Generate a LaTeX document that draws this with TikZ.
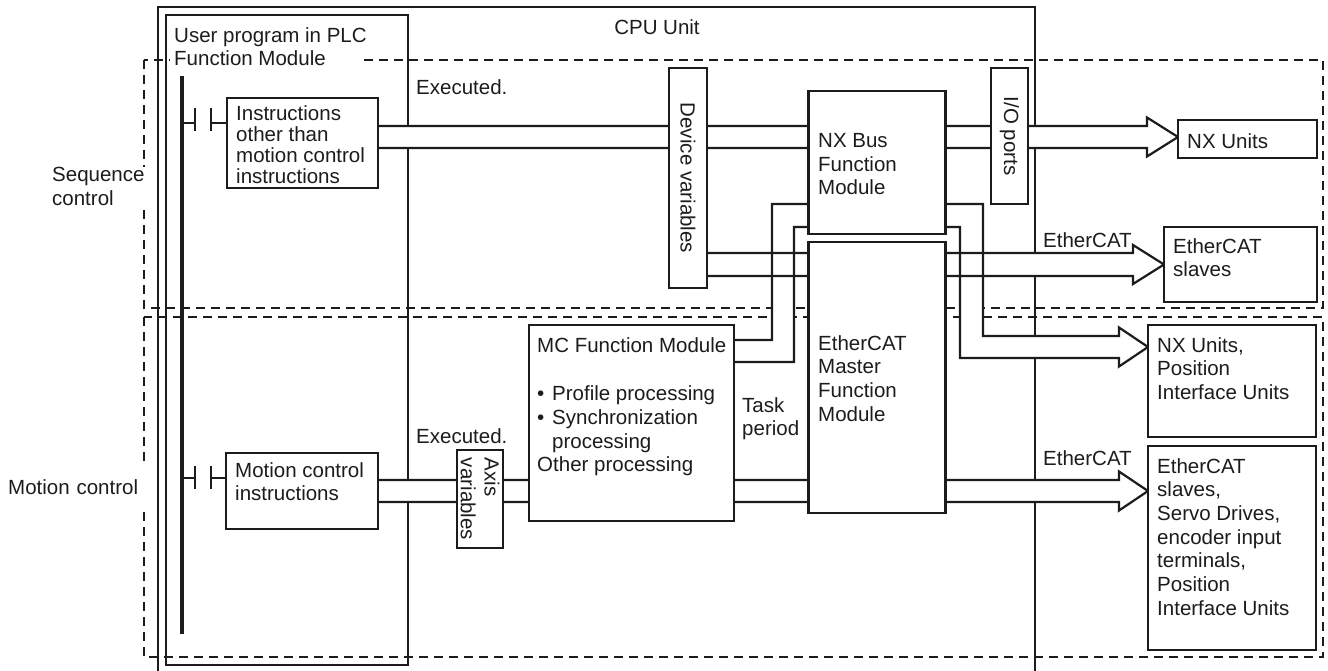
\documentclass[tikz,border=0pt]{standalone}
\usepackage{fontspec}
\setmainfont{Liberation Sans}
\definecolor{ink}{RGB}{30,27,28}
\newcommand\myfs{\fontsize{20.5}{23.7}\selectfont}
\pgfdeclarelayer{lA}\pgfdeclarelayer{lB}\pgfdeclarelayer{lC}
\pgfsetlayers{lA,lB,lC,main}
\begin{document}
\begin{tikzpicture}[x=1pt,y=-1pt,font=\myfs,text=ink,
  box/.style={draw=ink,fill=white,line width=2.8pt,inner sep=0pt,outer sep=0pt},
  lbl/.style={anchor=north west,inner sep=0pt,align=left},
  pipe/.style={draw=ink,line width=2.2pt,line join=miter},
  dsh/.style={draw=ink,line width=1.8pt,dash pattern=on 9pt off 6pt},
  frame/.style={draw=ink,line width=2.2pt},
  ln/.style={draw=ink,line width=2.8pt}]
\useasboundingbox (0,0) rectangle (1328,671);

% ---------- boxes ----------
\node[box,minimum width=151pt,minimum height=90pt] (instr) at (302.5,143) {};
\node[box,minimum width=152pt,minimum height=76pt] (minstr) at (302,491) {};
\node[box,rotate=-90,minimum width=220pt,minimum height=38pt] (dev) at (688,178) {Device variables};
\node[box,rotate=-90,minimum width=98pt,minimum height=46pt,align=left] (axis) at (480,499) {Axis\\variables};
\node[box,minimum width=137pt,minimum height=143pt] (nxb) at (877,162.5) {};
\node[box,rotate=-90,minimum width=136pt,minimum height=37pt] (io) at (1009.5,136) {I/O ports};
\node[box,minimum width=205pt,minimum height=196pt] (mc) at (631.5,423) {};
\node[box,minimum width=137pt,minimum height=271pt] (ecm) at (877,377.5) {};
\node[box,minimum width=139pt,minimum height=38pt] (nxu) at (1247.5,139) {};
\node[box,minimum width=153pt,minimum height=75pt] (ecs1) at (1240.5,264.5) {};
\node[box,minimum width=168pt,minimum height=112pt] (nxp) at (1232,381) {};
\node[box,minimum width=168pt,minimum height=204pt] (ecs2) at (1232,548) {};

% ---------- texts ----------
\node[anchor=north,inner sep=0pt] (tcpu) at (657,19) {CPU Unit};
\node[lbl] (tuser) at (174,27) {User program in PLC\\Function Module};
\node[lbl,font=\fontsize{20.5}{21}\selectfont] (tinstr) at (236,105) {Instructions\\other than\\motion control\\instructions};
\node[lbl] (tex1) at (416,79) {Executed.};
\node[lbl] (tnxb) at (818,133) {NX Bus\\Function\\Module};
\node[lbl] (tnxu) at (1187,133) {NX Units};
\node[lbl] (te1) at (1043,232) {EtherCAT};
\node[lbl] (tecs1) at (1173,238) {EtherCAT\\slaves};
\node[lbl] (tmc) at (537,337) {MC Function Module\\[25pt]\makebox[15pt][l]{•}Profile processing\\\makebox[15pt][l]{•}Synchronization\\\hspace*{15pt}processing\\Other processing};
\node[lbl] (ttask) at (742,397) {Task\\period};
\node[lbl] (tecm) at (818,335) {EtherCAT\\Master\\Function\\Module};
\node[lbl] (tnxp) at (1157,337) {NX Units,\\Position\\Interface Units};
\node[lbl] (te2) at (1043,450) {EtherCAT};
\node[lbl] (tecs2) at (1157,458) {EtherCAT\\slaves,\\Servo Drives,\\encoder input\\terminals,\\Position\\Interface Units};
\node[lbl] (tminstr) at (235,462) {Motion control\\instructions};
\node[lbl] (tex2) at (416,428) {Executed.};
\node[lbl,fill=white] (tseq) at (52,167) {Sequence\\control};
\node[anchor=north west,inner xsep=0pt,inner ysep=12pt,fill=white,text width=142pt] (tmot) at (8,467) {Motion control};

% ---------- ladder contacts ----------
\draw[ln] (182,123) -- (195,123) (195,108) -- (195,131) (211,108) -- (211,131) (211,123) -- (instr.west |- 0,123);
\draw[ln] (182,478) -- (195,478) (195,466) -- (195,489) (211,466) -- (211,489) (211,478) -- (minstr.west |- 0,478);

% ---------- background frames ----------
\begin{pgfonlayer}{lA}
\draw[dsh] (144,60) rectangle (1323,308);
\draw[dsh] (144,317) rectangle (1323,657);
\draw[frame] (158,671) -- (158,7) -- (1035,7) -- (1035,671);
\draw[frame,line width=2.6pt] (166,15) rectangle (408,665);
\draw[draw=ink,line width=3.2pt] (182,76) -- (182,634);
\end{pgfonlayer}

% ---------- pipe fills ----------
\begin{pgfonlayer}{lB}
\fill[white] (170,50) rectangle (358,69);
\fill[white] (instr.east |- 0,126) -- (1147,126) -- (1147,117.5) -- (nxu.west |- 0,137) -- (1147,156.5) -- (1147,148) -- (instr.east |- 0,148) -- cycle;
\fill[white] (dev.north |- 0,253) -- (1133,253) -- (1133,245) -- (ecs1.west |- 0,264.5) -- (1133,284) -- (1133,276) -- (dev.north |- 0,276) -- cycle;
\fill[white] (mc.east |- 0,340) -- (772,340) -- (772,204) -- (983,204) -- (983,336) -- (1119,336) -- (1119,327.5) -- (nxp.west |- 0,347) -- (1119,366.5) -- (1119,358) -- (960,358) -- (960,227) -- (794,227) -- (794,362) -- (mc.east |- 0,362) -- cycle;
\fill[white] (minstr.east |- 0,480) -- (1119,480) -- (1119,471.5) -- (ecs2.west |- 0,491) -- (1119,510.5) -- (1119,502) -- (minstr.east |- 0,502) -- cycle;
\end{pgfonlayer}

% ---------- pipe borders ----------
\begin{pgfonlayer}{lC}
\draw[pipe] (instr.east |- 0,126) -- (1147,126) -- (1147,117.5) -- (nxu.west |- 0,137) -- (1147,156.5) -- (1147,148) -- (instr.east |- 0,148);
\draw[pipe] (dev.north |- 0,253) -- (1133,253) -- (1133,245) -- (ecs1.west |- 0,264.5) -- (1133,284) -- (1133,276) -- (dev.north |- 0,276);
\draw[pipe] (mc.east |- 0,340) -- (772,340) -- (772,204) -- (983,204) -- (983,336) -- (1119,336) -- (1119,327.5) -- (nxp.west |- 0,347) -- (1119,366.5) -- (1119,358) -- (960,358) -- (960,227) -- (794,227) -- (794,362) -- (mc.east |- 0,362);
\draw[pipe] (minstr.east |- 0,480) -- (1119,480) -- (1119,471.5) -- (ecs2.west |- 0,491) -- (1119,510.5) -- (1119,502) -- (minstr.east |- 0,502);
\end{pgfonlayer}
\end{tikzpicture}
\end{document}
